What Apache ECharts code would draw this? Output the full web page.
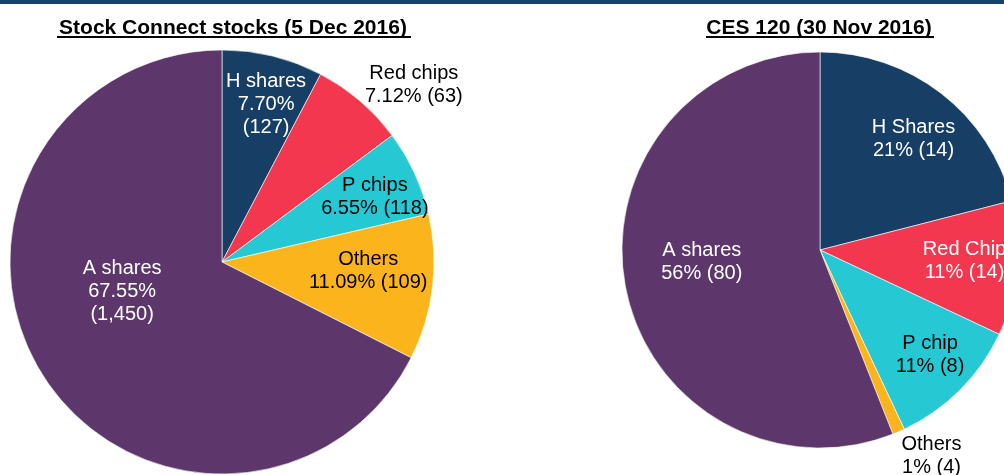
<!DOCTYPE html>
<html>
<head>
    <meta charset="utf-8">
    <title>Stock Connect vs CES 120</title>
    <script src="https://cdn.jsdelivr.net/npm/echarts@6/dist/echarts.min.js"></script>
    <style>
        html, body { margin: 0; padding: 0; background: #fff; }
        #chart1 { width: 1004px; height: 475px; }
    </style>
</head>
<body>
<div id="chart1"></div>
<script type="text/javascript">
// 数据
var leftTitle = 'Stock Connect stocks (5 Dec 2016)';
var leftNames = ['H shares', 'Red chips', 'P chips', 'Others', 'A shares'];
var leftPct = [7.70, 7.12, 6.55, 11.09, 67.55];
var leftCount = ['127', '63', '118', '109', '1,450'];

var rightTitle = 'CES 120 (30 Nov 2016)';
var rightNames = ['H Shares', 'Red Chip', 'P chip', 'Others', 'A shares'];
var rightPct = [21, 11, 11, 1, 56];
var rightCount = ['14', '14', '8', '4', '80'];

var colors = ['#173f66', '#f2374f', '#26c9d3', '#fcb41c', '#5d366b'];
var FONT = '"Liberation Sans", Arial, sans-serif';

// 标签偏移 (相对 inside 位置)
var leftShift = [[18, -52], [121, -94], [54, -19], [38, -4], [-7, -28]];
var leftColor = ['#fff', '#000', '#000', '#000', '#fff'];
var rightShift = [[31, -30], [43, 1], [38, 33], [71, 112], [-18, -7]];
var rightColor = ['#fff', '#fff', '#000', '#000', '#fff'];

function makeData(names, pct, count, txtColor, decimals, stacked) {
    return names.map(function (n, i) {
        var p = pct[i].toFixed(decimals) + '%';
        var txt = stacked.indexOf(n) >= 0
            ? n + '\n' + p + '\n(' + count[i] + ')'
            : n + '\n' + p + ' (' + count[i] + ')';
        return {
            name: n,
            value: pct[i],
            label: { formatter: txt, color: txtColor[i] }
        };
    });
}

function pieSeries(center, radius, data, shift) {
    return {
        type: 'pie',
        center: center,
        radius: radius,
        startAngle: 90,
        clockwise: true,
        silent: true,
        animation: false,
        data: data,
        label: {
            show: true,
            position: 'inside',
            fontFamily: FONT,
            fontSize: 20,
            lineHeight: 23,
            align: 'center'
        },
        labelLine: { show: false },
        labelLayout: function (params) {
            var s = shift[params.dataIndex];
            return { dx: s[0], dy: s[1] };
        },
        itemStyle: { borderColor: '#ffffff', borderWidth: 0.6 }
    };
}

var myChart1 = echarts.init(document.getElementById('chart1'));

myChart1.setOption({
    color: colors,
    title: [
        { text: leftTitle, left: 228, top: 13, textAlign: 'center',
          textStyle: { fontFamily: FONT, fontSize: 21, fontWeight: 'bold', color: '#000' } },
        { text: rightTitle, left: 814, top: 13, textAlign: 'center',
          textStyle: { fontFamily: FONT, fontSize: 21, fontWeight: 'bold', color: '#000' } }
    ],
    graphic: [
        { type: 'rect', shape: { x: 0, y: 0, width: 1004, height: 4 }, style: { fill: '#17406a' } },
        { type: 'rect', shape: { x: 57, y: 36, width: 354, height: 2 }, style: { fill: '#000' } },
        { type: 'rect', shape: { x: 706, y: 36, width: 228, height: 2 }, style: { fill: '#000' } }
    ],
    series: [
        pieSeries([222, 262], 212, makeData(leftNames, leftPct, leftCount, leftColor, 2, ['H shares', 'A shares']), leftShift),
        pieSeries([820, 250], 198, makeData(rightNames, rightPct, rightCount, rightColor, 0, []), rightShift)
    ]
});
</script>
</body>
</html>
